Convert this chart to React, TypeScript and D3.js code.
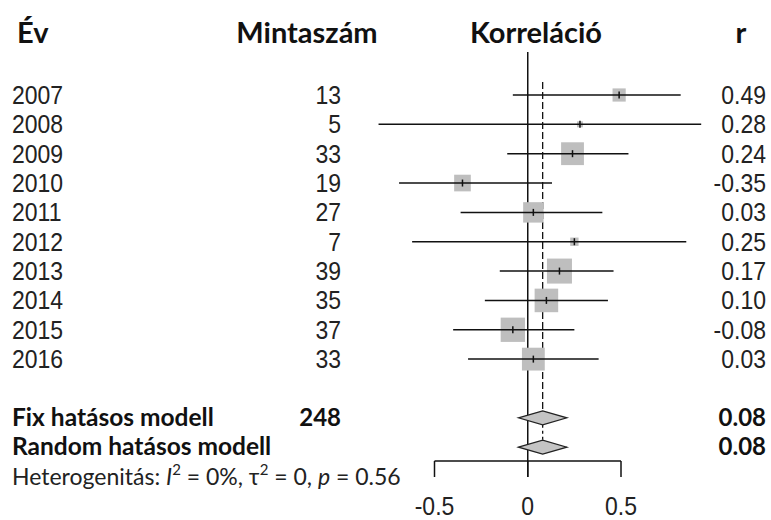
import React from 'react'
import * as d3 from 'd3'

// Adatok
const years = ['2007', '2008', '2009', '2010', '2011', '2012', '2013', '2014', '2015', '2016']
const sampleSizes = [13, 5, 33, 19, 27, 7, 39, 35, 37, 33]
const correlations = [0.49, 0.28, 0.24, -0.35, 0.03, 0.25, 0.17, 0.1, -0.08, 0.03]
const ciLower = [-0.08, -0.8, -0.11, -0.69, -0.36, -0.62, -0.15, -0.23, -0.4, -0.32]
const ciUpper = [0.82, 0.93, 0.54, 0.13, 0.4, 0.85, 0.46, 0.43, 0.25, 0.38]

const pooledLabels = ['Fix hatásos modell', 'Random hatásos modell']
const pooledR = [0.08, 0.08]
const pooledLower = [-0.05, -0.05]
const pooledUpper = [0.21, 0.21]
const totalN = 248

const xTicks = [-0.5, 0, 0.5]

const W = 771
const H = 520

const numFont = '"Liberation Sans", Arial, sans-serif'
const lblFont = 'Lato, "Open Sans", sans-serif'

// az eredeti kép függőlegesen kissé nyújtott, ezért a számokat is nyújtjuk
const Num = ({ x, y, anchor = 'start', children }: { x: number; y: number; anchor?: string; children: React.ReactNode }) => (
	<text
		transform={`translate(${x},${y}) scale(1,1.12)`}
		textAnchor={anchor}
		fontFamily={numFont}
		fontSize={23}
		fill="#222"
	>
		{children}
	</text>
)

const App = () => {
	const x = d3.scaleLinear().domain([-0.5, 0.5]).range([434.5, 621])
	// sor index -> y
	const row = d3.scaleLinear().domain([0, 13]).range([95, 476.5])
	// négyzet mérete ~ gyök(súly), súly = n - 3
	const weights = sampleSizes.map(n => n - 3)
	const size = d3.scaleSqrt().domain([0, d3.max(weights) as number]).range([0, 25])

	const yFix = row(11)
	const yRand = row(12)
	const axisY = 461
	const tickBottom = 477
	const dh = 7

	const diamond = (i: number, y: number) =>
		`M${x(pooledLower[i])},${y} L${x(pooledR[i])},${y - dh} L${x(pooledUpper[i])},${y} L${x(pooledR[i])},${y + dh} Z`

	return (
		<svg width={W} height={H} style={{ position: 'absolute', left: 0, top: 0, background: '#fff' }}>
			{/* fejléc */}
			<g fontFamily={lblFont} fontWeight={700} fontSize={29} fill="#111">
				<text x={17} y={43}>Év</text>
				<text x={307} y={43} textAnchor="middle">Mintaszám</text>
				<text x={536} y={43} textAnchor="middle">Korreláció</text>
				<text x={741} y={43} textAnchor="middle">r</text>
			</g>

			{/* nulla vonal */}
			<line x1={x(0)} x2={x(0)} y1={52} y2={tickBottom} stroke="#111" strokeWidth={1.5} />
			{/* összesített hatás szaggatott vonala */}
			<line x1={x(pooledR[0])} x2={x(pooledR[0])} y1={82} y2={yFix - dh} stroke="#111" strokeWidth={1.3} strokeDasharray="7,3" />
			<line x1={x(pooledR[1])} x2={x(pooledR[1])} y1={yFix + dh} y2={yRand - dh} stroke="#111" strokeWidth={1.3} strokeDasharray="3,3" />

			{/* egyedi vizsgálatok */}
			{years.map((yr, i) => {
				const y = row(i)
				const s = size(weights[i])
				return (
					<g key={yr}>
						<Num x={12} y={y + 9}>{yr}</Num>
						<Num x={341} y={y + 9} anchor="end">{sampleSizes[i]}</Num>
						<rect x={x(correlations[i]) - s / 2} y={y - s / 2} width={s} height={s} fill="#bebebe" />
						<line x1={x(ciLower[i])} x2={x(ciUpper[i])} y1={y} y2={y} stroke="#111" strokeWidth={1.5} />
						<line x1={x(correlations[i])} x2={x(correlations[i])} y1={y - 3.5} y2={y + 3.5} stroke="#111" strokeWidth={1.5} />
						<Num x={766} y={y + 9} anchor="end">{correlations[i].toFixed(2)}</Num>
					</g>
				)
			})}

			{/* összesített modellek */}
			{pooledLabels.map((lab, i) => {
				const y = i === 0 ? yFix : yRand
				return (
					<g key={lab}>
						<text x={12} y={y + 8} fontFamily={lblFont} fontWeight={700} fontSize={24.5} fill="#111">{lab}</text>
						<path d={diamond(i, y)} fill="#c4c4c4" stroke="#222" strokeWidth={1.2} />
						<text x={766} y={y + 8} textAnchor="end" fontFamily={lblFont} fontWeight={700} fontSize={24} fill="#111">{pooledR[i].toFixed(2)}</text>
					</g>
				)
			})}
			<text x={341} y={yFix + 8} textAnchor="end" fontFamily={lblFont} fontWeight={700} fontSize={24} fill="#111">{totalN}</text>

			{/* heterogenitás */}
			<text x={12} y={row(13) + 8} fontFamily={lblFont} fontSize={23} fill="#222">
				Heterogenitás: <tspan fontStyle="italic">I</tspan>
				<tspan dy={-10} fontSize={15}>2</tspan>
				<tspan dy={10}> = 0%, τ</tspan>
				<tspan dy={-10} fontSize={15}>2</tspan>
				<tspan dy={10}> = 0, </tspan>
				<tspan fontStyle="italic">p</tspan>
				<tspan> = 0.56</tspan>
			</text>

			{/* x tengely */}
			<line x1={x(xTicks[0])} x2={x(xTicks[xTicks.length - 1])} y1={axisY} y2={axisY} stroke="#111" strokeWidth={1.5} />
			{xTicks.map(t => (
				<g key={t}>
					<line x1={x(t)} x2={x(t)} y1={axisY} y2={tickBottom} stroke="#111" strokeWidth={1.5} />
					<Num x={x(t)} y={515} anchor="middle">{String(t)}</Num>
				</g>
			))}
		</svg>
	)
}

export default App
